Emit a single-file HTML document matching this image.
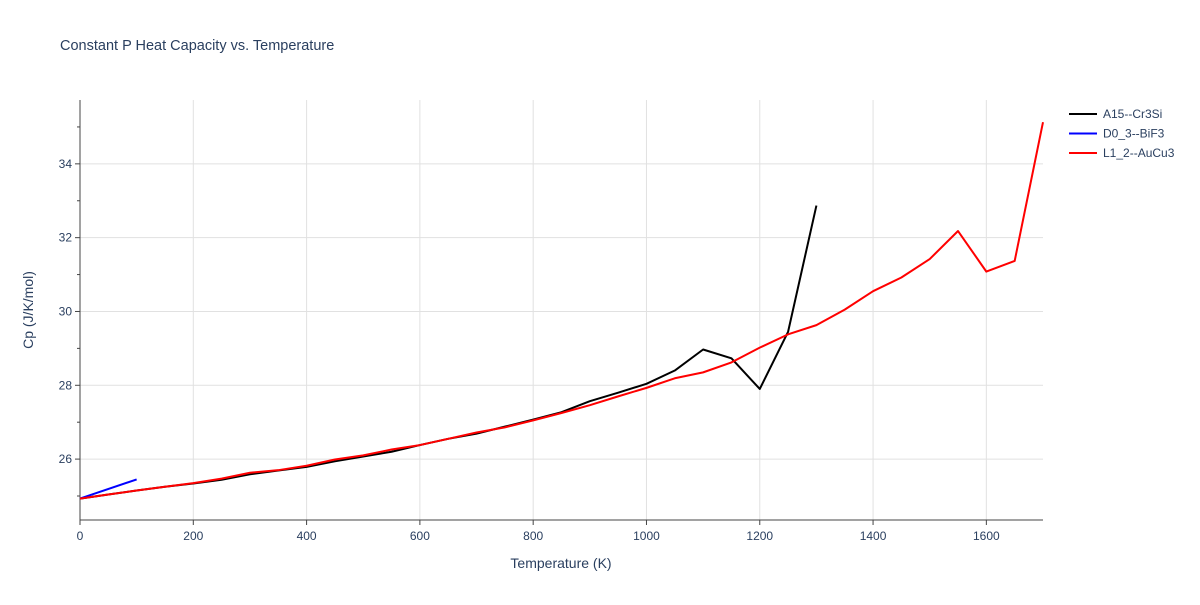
<!DOCTYPE html>
<html><head><meta charset="utf-8"><style>
body{margin:0;background:#fff;font-family:"Liberation Sans",sans-serif;}
svg text{font-family:"Liberation Sans",sans-serif;fill:#2a3f5f;}
</style></head><body>
<svg id="chart" width="1200" height="600">
<text x="60" y="50" font-size="14.5">Constant P Heat Capacity vs. Temperature</text>
<g id="grid"></g><g id="axes"></g><g id="series"></g><g id="legend"></g>
<text x="561" y="568" font-size="14" text-anchor="middle">Temperature (K)</text>
<text transform="translate(33,310) rotate(-90)" font-size="14" text-anchor="middle">Cp (J/K/mol)</text>
</svg>
<script>
const xTicks=[0,200,400,600,800,1000,1200,1400,1600];
const yTicks=[26,28,30,32,34];
const seriesNames=["A15--Cr3Si","D0_3--BiF3","L1_2--AuCu3"];
const seriesColors=["#000000","#0000ff","#ff0000"];
const tempRed=[0,50,100,150,200,250,300,350,400,450,500,550,600,650,700,750,800,850,900,950,1000,1050,1100,1150,1200,1250,1300,1350,1400,1450,1500,1550,1600,1650,1700];
const cpRed=[24.93,25.04,25.15,25.25,25.35,25.47,25.63,25.7,25.82,25.99,26.1,26.26,26.38,26.55,26.72,26.86,27.05,27.25,27.46,27.7,27.93,28.19,28.35,28.62,29.02,29.38,29.63,30.05,30.55,30.92,31.42,32.18,31.08,31.37,35.13];
const tempBlack=[0,50,100,150,200,250,300,350,400,450,500,550,600,650,700,750,800,850,900,950,1000,1050,1100,1150,1200,1250,1300];
const cpBlack=[24.93,25.04,25.15,25.25,25.34,25.44,25.59,25.69,25.79,25.94,26.07,26.2,26.38,26.55,26.69,26.88,27.07,27.27,27.57,27.8,28.04,28.4,28.97,28.73,27.9,29.45,32.87];
const tempBlue=[0,100];
const cpBlue=[24.93,25.45];
const L=80,R=1043,T=100,B=520,xMin=0,xMax=1700,yMin=24.35,yMax=35.73;
const X=v=>L+(v-xMin)/(xMax-xMin)*(R-L);
const Y=v=>B-(v-yMin)/(yMax-yMin)*(B-T);
const NS="http://www.w3.org/2000/svg";
function mk(tag,attrs,parent){const e=document.createElementNS(NS,tag);for(const k in attrs)e.setAttribute(k,attrs[k]);parent.appendChild(e);return e;}
const grid=document.getElementById('grid'),axes=document.getElementById('axes'),ser=document.getElementById('series'),leg=document.getElementById('legend');
xTicks.forEach(t=>{
 if(t>0){const g=mk('line',{x1:X(t),x2:X(t),y1:T,y2:B,stroke:'#e1e1e1'},grid);
 
 }
 const tk=mk('line',{x1:X(t),x2:X(t),y1:B,y2:B+5,stroke:'#444'},axes);
 
 
 const tx=mk('text',{x:X(t),y:B+20,'font-size':12,'text-anchor':'middle'},axes);tx.textContent=t;
 
 
});
yTicks.forEach(t=>{
 const g=mk('line',{x1:L,x2:R,y1:Y(t),y2:Y(t),stroke:'#e1e1e1'},grid);
 
 
 const tk=mk('line',{x1:L-5,x2:L,y1:Y(t),y2:Y(t),stroke:'#444'},axes);
 
 
 const tx=mk('text',{x:L-8,y:Y(t)+4,'font-size':12,'text-anchor':'end'},axes);tx.textContent=t;
 
 
});
for(let v=25;v<=35;v+=2){const m=mk('line',{x1:L-3,x2:L,y1:Y(v),y2:Y(v),stroke:'#444'},axes);
 
 }
const ax1=mk('line',{x1:L,x2:L,y1:T,y2:B,stroke:'#444'},axes);


const ax2=mk('line',{x1:L,x2:R,y1:B,y2:B,stroke:'#444'},axes);


const data=[[tempBlack,cpBlack],[tempBlue,cpBlue],[tempRed,cpRed]];
data.forEach((d,i)=>{
 const pts=d[0].map((t,j)=>X(t)+','+Y(d[1][j])).join(' ');
 const p=mk('polyline',{points:pts,fill:'none',stroke:seriesColors[i],'stroke-width':2,'stroke-linejoin':'round'},ser);
 
 
 const ly=114+i*19.5;
 const g=mk('g',{},leg);
 
 
 mk('line',{x1:1069,x2:1097,y1:ly,y2:ly,stroke:seriesColors[i],'stroke-width':2},g);
 const tx=mk('text',{x:1103,y:ly+4,'font-size':12},g);tx.textContent=seriesNames[i];
});
</script>
</body></html>
